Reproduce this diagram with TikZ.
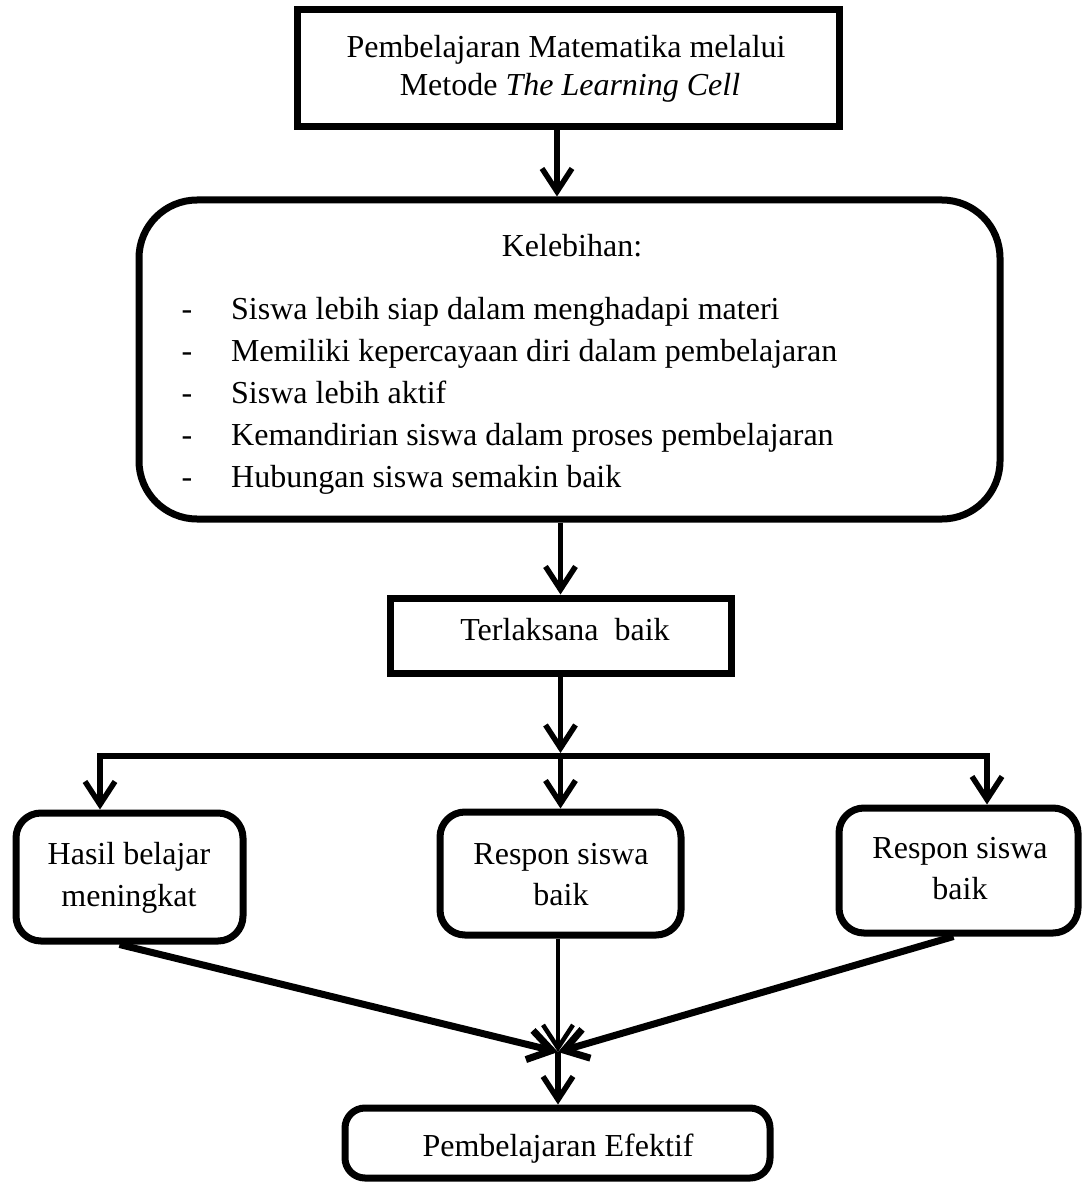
\documentclass[tikz,border=0pt]{standalone}
\usepackage{fontspec}
\setmainfont{Liberation Serif}
\usetikzlibrary{arrows.meta}
\newcommand\fsz{\fontsize{32}{37}\selectfont}
\begin{document}
\begin{tikzpicture}[x=1pt,y=-1pt,
  rbox/.style={draw,line width=7pt,inner sep=0pt},
  rnd/.style={rbox,rounded corners=25pt},
  txt/.style={font=\fsz,inner sep=0pt,anchor=base},
  ltxt/.style={font=\fsz,inner sep=0pt,anchor=base west},
  arr/.style={line width=5.5pt,-{Straight Barb[length=23pt,width=30pt]}}]
\useasboundingbox (0,0) rectangle (1082,1182);

% boxes
\node[rbox,minimum width=542pt,minimum height=117pt] (top) at (568,68.5) {};
\node[rbox,rounded corners=58pt,minimum width=861pt,minimum height=319pt] (big) at (569.5,359.5) {};
\node[rbox,minimum width=341pt,minimum height=75pt] (terl) at (560.5,635.5) {};
\node[rnd,minimum width=227pt,minimum height=128pt] (box1) at (129.5,877) {};
\node[rnd,minimum width=241pt,minimum height=123pt] (box2) at (560.5,873.5) {};
\node[rnd,minimum width=239pt,minimum height=125pt] (box3) at (958.5,870.5) {};
\node[rbox,rounded corners=20pt,minimum width=425pt,minimum height=70pt] (bot) at (557.5,1143) {};

% texts
\node[txt] (t1) at (566,58) {Pembelajaran Matematika melalui};
\node[txt] (t2) at (570,96) {Metode \textit{The Learning Cell}};
\node[txt] (kel) at (572,256) {Kelebihan:};
\foreach \y/\s [count=\i] in {319/Siswa lebih siap dalam menghadapi materi,
  361/Memiliki kepercayaan diri dalam pembelajaran,
  403/Siswa lebih aktif,
  445.5/Kemandirian siswa dalam proses pembelajaran,
  487.5/Hubungan siswa semakin baik}{
  \node[txt] (d\i) at (187,\y) {-};
  \node[ltxt] (l\i) at (231,\y) {\s};
}
\node[txt] (tt) at (565,640) {Terlaksana\ \ baik};
\node[txt] (h1) at (129,864) {Hasil belajar};
\node[txt] (h2) at (129,906) {meningkat};
\node[txt] (r1) at (561,864) {Respon siswa};
\node[txt] (r2) at (561,905) {baik};
\node[txt] (s1) at (960,858) {Respon siswa};
\node[txt] (s2) at (960,899) {baik};
\node[txt] (pe) at (558,1156) {Pembelajaran Efektif};

% connectors
\coordinate (barL) at (100,756);
\coordinate (barR) at (987,756);
\coordinate (barT) at (560,753);
\coordinate (conv) at (558,1052);

\draw[arr] ([xshift=-11pt]top.south) -- ([xshift=-12.5pt]big.north);
\draw[arr] (big.south -| terl.north) -- (terl.north);
\draw[arr] (terl.south) -- (terl.south |- barT);
\draw[line width=6pt,line cap=rect] (barL) -- (barR);
\draw[arr] (barL) -- (barL |- box1.north);
\draw[arr] (box2.north |- barL) -- (box2.north);
\draw[arr] (barR) -- (barR |- box3.north);
\draw[arr,line width=7pt] ([xshift=-10pt]box1.south) -- (conv);
\draw[arr,line width=4.5pt] (box2.south -| conv) -- (conv);
\draw[arr,line width=7pt] ([xshift=-5pt]box3.south) -- (conv);
\draw[arr] (conv) -- (conv |- bot.north);
\end{tikzpicture}
\end{document}
